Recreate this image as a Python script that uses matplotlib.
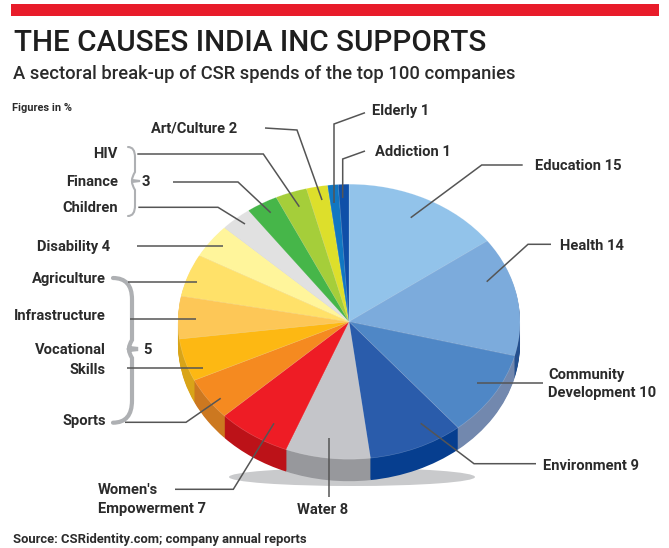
import matplotlib
matplotlib.use("Agg")
import matplotlib.pyplot as plt
from matplotlib.patches import Ellipse, PathPatch, Rectangle
from matplotlib.path import Path

W, H = 669, 548

# CSR spend by sector, clockwise from twelve o'clock
sectors = ["Education", "Health", "Community Development", "Environment", "Water",
           "Women's Empowerment", "Sports", "Vocational Skills", "Infrastructure",
           "Agriculture", "Disability", "Children", "Finance", "HIV", "Art/Culture",
           "Elderly", "Addiction"]
values = [15, 14, 10, 9, 8, 7, 5, 5, 5, 5, 4, 3, 3, 3, 2, 1, 1]
top_colors = ["#92C3EA", "#7CABDC", "#4F87C6", "#2A5CAB", "#C4C5C9", "#EE1C25",
              "#F58A20", "#FDB813", "#FDC757", "#FFE169", "#FFF59B", "#E1E1E1",
              "#46B649", "#A5CE3A", "#DDDF2B", "#1177C2", "#0F4FA8"]
side_colors = ["#5F8FC4", "#24508F", "#7288AE", "#063E8F", "#97989C", "#BC1218",
               "#CC7820", "#D9A418", "#D9A418", "#D9A418", "#D9A418", "#AAAAAA",
               "#2F8A33", "#7D9C2B", "#A8AA20", "#0C5A94", "#0A3A7E"]
val = dict(zip(sectors, values))

# Pie geometry, in figure pixels
cx, cy, rx, ry, depth = 349.0, 321.7, 171.0, 137.5, 22

FONT = "Roboto"
INK = "#2B2B2B"
LINE = "#555555"

fig = plt.figure(figsize=(W / 100, H / 100), dpi=100, facecolor="white")

# Pie axes: one data unit is rx pixels across and ry pixels down, which flattens the disc
pie_ax = fig.add_axes([0, 0, 1, 1], zorder=2)
for step in range(depth, 0, -1):
    pie_ax.pie(values, colors=side_colors, startangle=90, counterclock=False,
               center=(0, -step / ry), radius=1, wedgeprops={"linewidth": 0})
pie_ax.pie(values, colors=top_colors, startangle=90, counterclock=False,
           center=(0, 0), radius=1,
           wedgeprops={"linewidth": 0.4, "edgecolor": "#ffffff40"})
pie_ax.set_aspect("auto")
pie_ax.set_xlim(-cx / rx, (W - cx) / rx)
pie_ax.set_ylim((cy - H) / ry, cy / ry)
pie_ax.axis("off")

# Page axes in pixel coordinates for the header, the shadow and the callouts
page = fig.add_axes([0, 0, 1, 1], zorder=1)
page.set_xlim(0, W)
page.set_ylim(H, 0)
page.axis("off")
over = fig.add_axes([0, 0, 1, 1], zorder=3)
over.set_xlim(0, W)
over.set_ylim(H, 0)
over.axis("off")
over.patch.set_alpha(0)

page.add_patch(Ellipse((352, 477), 246, 18, facecolor="#C9CACC", edgecolor="none"))
over.add_patch(Rectangle((11, 4), 648, 11.6, facecolor="#E81C2A", edgecolor="none"))

over.text(14, 43, "THE CAUSES INDIA INC SUPPORTS", family=FONT, fontsize=21.35,
          color="#1E1E1E", ha="left", va="center", fontweight="medium")
over.text(13, 74, "A sectoral break-up of CSR spends of the top 100 companies",
          family=FONT, fontsize=13.25, color="#2B2B2B", ha="left", va="center",
          fontweight="medium")
over.text(12, 108, "Figures in %", family=FONT, fontsize=7.9, color=INK, va="center",
          fontweight="bold")
over.text(13, 540, "Source: CSRidentity.com; company annual reports", family=FONT,
          fontsize=9.4, color=INK, va="center", fontweight="bold")


def label(x, y, s, ha="left"):
    over.text(x, y + 1.5, s, family=FONT, fontsize=10.6, color=INK, ha=ha, va="center",
              fontweight="bold", linespacing=1.15)


label(372, 110, f"Elderly {val['Elderly']}")
label(375, 150, f"Addiction {val['Addiction']}")
label(535, 164, f"Education {val['Education']}")
label(560, 245, f"Health {val['Health']}")
label(548, 374, "Community")
label(548, 392, f"Development {val['Community Development']}")
label(543, 464, f"Environment {val['Environment']}")
label(297, 508, f"Water {val['Water']}")
label(98, 489, "Women's")
label(98, 507, f"Empowerment {val["Women's Empowerment"]}")
label(106, 419, "Sports", ha="right")
label(106, 349, "Vocational", ha="right")
label(106, 368, "Skills", ha="right")
label(106, 314, "Infrastructure", ha="right")
label(106, 277, "Agriculture", ha="right")
label(37, 245, f"Disability {val['Disability']}")
label(118, 207, "Children", ha="right")
label(118, 181, "Finance", ha="right")
label(118, 153, "HIV", ha="right")
label(151, 127, f"Art/Culture {val['Art/Culture']}")
label(142, 181, str(val["Children"]))
label(143, 349, str(val["Sports"]))

# Callout leaders, each running from the label into its slice
leaders = [
    [(365, 112.7), (334, 124), (334, 203)],
    [(365, 151), (342.7, 159), (342.7, 198)],
    [(522.7, 165), (481.7, 165), (410.7, 217.7)],
    [(551, 244.3), (528, 244.3), (486.7, 281.7)],
    [(542.7, 383.3), (476.7, 383.3)],
    [(536, 463.7), (474, 463.7), (420.7, 423.3)],
    [(329.3, 437.7), (329.3, 496.7)],
    [(175, 489.3), (233.3, 489.3), (274, 423.3)],
    [(125, 422.3), (186, 422.3), (220.7, 398.3)],
    [(126.7, 368.3), (202.7, 368.3)],
    [(130, 319.3), (195.7, 319.3)],
    [(128, 281.7), (197.3, 281.7)],
    [(137.3, 245.7), (223.3, 245.7)],
    [(138.3, 207.3), (218, 207.3), (245, 224)],
    [(173, 182), (238, 182), (270.7, 212.7)],
    [(137.3, 154), (263.3, 154), (299.3, 206.7)],
    [(265, 128), (297, 130), (322, 200)],
]
for pts in leaders:
    xs, ys = zip(*pts)
    over.plot(xs, ys, color=LINE, lw=1.1, solid_joinstyle="miter", solid_capstyle="butt")


def brace(x_end, x_body, x_tip, y_top, y_mid, y_bot, lw):
    c = Path.CURVE3
    verts = [(x_end, y_top), (x_body, y_top), (x_body, y_top + (y_mid - y_top) * 0.3),
             (x_body, y_mid - 9), (x_body - 3, y_mid - 4), (x_body - 3, y_mid - 1),
             (x_tip, y_mid), (x_body - 3, y_mid + 1), (x_body - 3, y_mid + 4),
             (x_body, y_mid + 9), (x_body, y_bot - (y_bot - y_mid) * 0.3),
             (x_body, y_bot), (x_end, y_bot)]
    codes = [Path.MOVETO, c, c, Path.LINETO, c, c, Path.LINETO, Path.LINETO, c, c,
             Path.LINETO, c, c]
    over.add_patch(PathPatch(Path(verts, codes), facecolor="none", edgecolor="#AEB0B3",
                             lw=lw, capstyle="round"))


brace(128, 135, 140, 147, 181, 216, 1.5)
brace(113, 132, 138, 278, 349, 422.7, 3.0)

fig.savefig("out.png", dpi=100)
